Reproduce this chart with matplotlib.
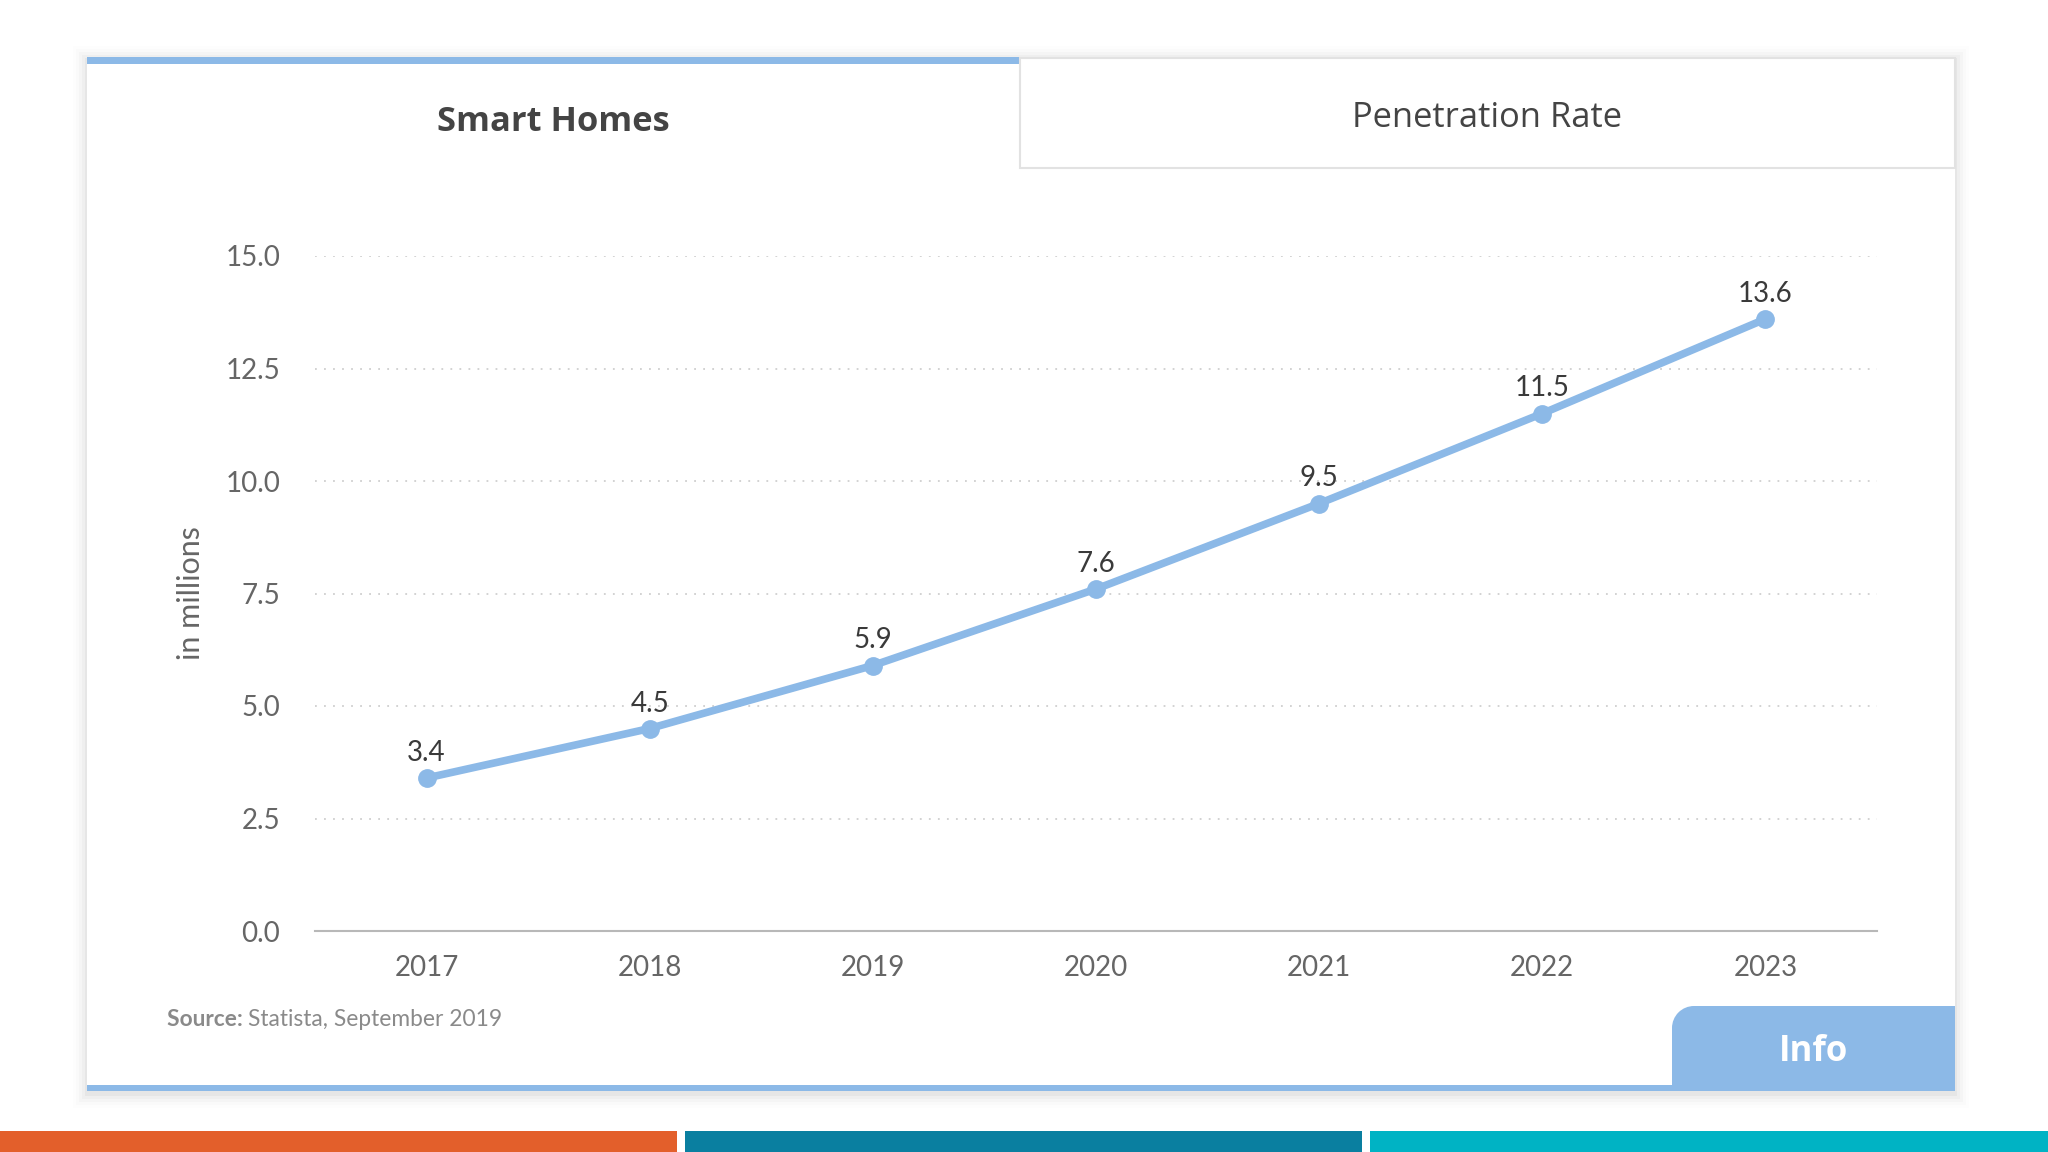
import matplotlib
matplotlib.use("Agg")
import matplotlib.pyplot as plt
from matplotlib.patches import Rectangle, Circle

# ---- data ----
years = ["2017", "2018", "2019", "2020", "2021", "2022", "2023"]
smart_homes = [3.4, 4.5, 5.9, 7.6, 9.5, 11.5, 13.6]
y_ticks = [0.0, 2.5, 5.0, 7.5, 10.0, 12.5, 15.0]
tab_active = "Smart Homes"
tab_inactive = "Penetration Rate"
y_label = "in millions"
source_bold = "Source:"
source_text = "Statista, September 2019"
info_label = "Info"

BLUE = "#8cb9e7"
W, H = 2048, 1152
fig = plt.figure(figsize=(W / 100, H / 100), dpi=100)
fig.patch.set_facecolor("white")

bg = fig.add_axes([0, 0, 1, 1])
bg.set_xlim(0, W)
bg.set_ylim(H, 0)
bg.axis("off")
bg.set_zorder(0)

# card shadow
cx0, cy0, cx1, cy1 = 87, 57, 1955, 1091
for i, a in enumerate([0.035, 0.025, 0.018, 0.012, 0.008]):
    d = 2 + i * 3
    bg.add_patch(Rectangle((cx0 - d, cy0 - d + 3), cx1 - cx0 + 2 * d, cy1 - cy0 + 2 * d,
                           facecolor="black", edgecolor="none", alpha=a))
bg.add_patch(Rectangle((cx0, cy0), cx1 - cx0, cy1 - cy0, facecolor="white", edgecolor="none"))

# tabs
split = 1020
bg.add_patch(Rectangle((cx0, cy0), split - cx0, 6.5, facecolor=BLUE, edgecolor="none"))
bg.add_patch(Rectangle((split, cy0 + 1), cx1 - split, 168 - cy0 - 1, facecolor="white",
                       edgecolor="#e2e2e2", lw=1.5))
bg.text((cx0 + split) / 2, 122, tab_active, ha="center", va="center", fontsize=24.8,
        fontweight="bold", color="#444444", family="Open Sans")
bg.text((split + cx1) / 2, 118, tab_inactive, ha="center", va="center", fontsize=24.8,
        color="#444444", family="Open Sans")

# bottom bar and Info tab
bg.add_patch(Rectangle((cx0, 1085), 1672 - cx0, 6, facecolor=BLUE, edgecolor="none"))
ix0, iy0, ix1, iy1, r = 1672, 1006, 1955, 1091, 22
bg.add_patch(Rectangle((ix0 + r, iy0), ix1 - ix0 - r, iy1 - iy0, facecolor=BLUE, edgecolor="none"))
bg.add_patch(Rectangle((ix0, iy0 + r), r + 1, iy1 - iy0 - r, facecolor=BLUE, edgecolor="none"))
bg.add_patch(Circle((ix0 + r, iy0 + r), r, facecolor=BLUE, edgecolor="none"))
bg.text((ix0 + ix1) / 2, 1052, info_label, ha="center", va="center", fontsize=25,
        fontweight="bold", color="white", family="Open Sans")

# source
t = bg.text(167, 1019, source_bold + " ", ha="left", va="center", fontsize=16.4,
            fontweight="bold", color="#8a8a8a", family="Lato")
fig.canvas.draw()
bb = t.get_window_extent()
bg.text(167 + bb.width, 1019, source_text, ha="left", va="center", fontsize=16.4,
        color="#8a8a8a", family="Lato")

# bottom stripes
bg.add_patch(Rectangle((0, 1131), 677, 21, facecolor="#e35f2b", edgecolor="none"))
bg.add_patch(Rectangle((685, 1131), 677, 21, facecolor="#0a7fa0", edgecolor="none"))
bg.add_patch(Rectangle((1370, 1131), 678, 21, facecolor="#00b3c4", edgecolor="none"))

# ---- chart ----
ax = fig.add_axes([315 / W, (H - 931) / H, (1877 - 315) / W, (931 - 256) / H])
ax.set_zorder(1)
ax.patch.set_alpha(0)
x = list(range(len(years)))
ax.plot(x, smart_homes, color=BLUE, lw=5.5, marker="o", markersize=12.5,
        solid_capstyle="round", zorder=3, clip_on=False)
for xi, v in zip(x, smart_homes):
    ax.annotate(f"{v:.1f}", (xi, v), xytext=(0, 18), textcoords="offset points",
                ha="center", va="center", fontsize=20, color="#3a3a3a", family="Lato")
ax.set_xlim(-0.5, len(years) - 0.5)
ax.set_ylim(0, 15)
ax.set_xticks(x)
ax.set_xticklabels(years)
ax.set_yticks(y_ticks)
ax.set_yticklabels([f"{v:.1f}" for v in y_ticks])
for v in y_ticks[1:]:
    ax.axhline(v, color="#cfcfcf", lw=1.3, ls=(0, (1, 4)), zorder=1)
for s in ["top", "right", "left"]:
    ax.spines[s].set_visible(False)
ax.spines["bottom"].set_color("#b8b8b8")
ax.spines["bottom"].set_linewidth(1.5)
ax.tick_params(axis="both", length=0, labelsize=20, labelcolor="#666666")
ax.tick_params(axis="y", pad=25)
ax.tick_params(axis="x", pad=17)
for lab in ax.get_xticklabels() + ax.get_yticklabels():
    lab.set_family("Lato")
ax.set_ylabel(y_label, fontsize=22, color="#666666", family="Lato")
ax.yaxis.set_label_coords(-110 / 1562, 0.5)

fig.savefig("out.png", dpi=100, facecolor="white")
